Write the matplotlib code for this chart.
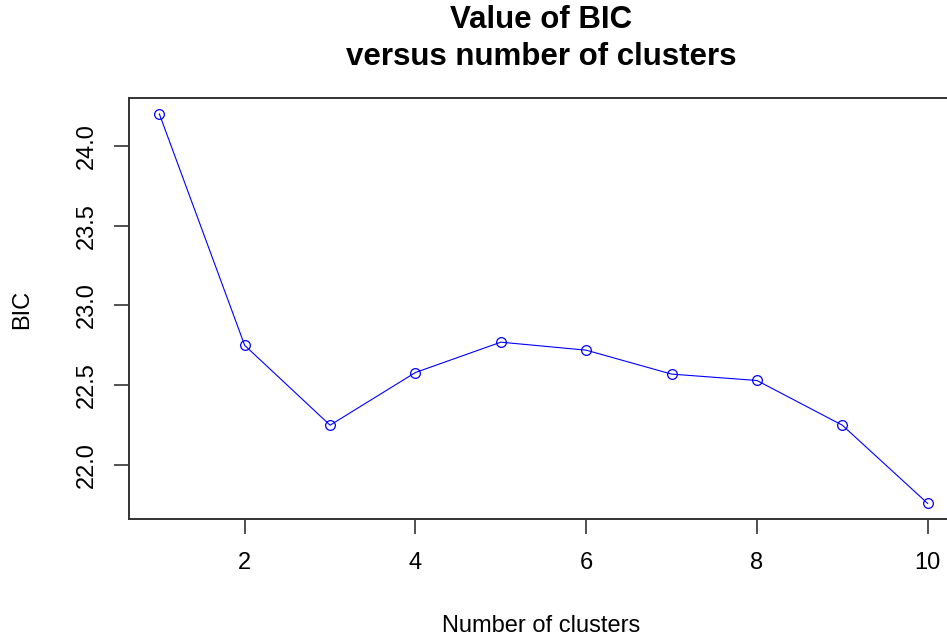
import matplotlib
matplotlib.use("Agg")
import matplotlib.pyplot as plt

# BIC per number of clusters
clusters = [1, 2, 3, 4, 5, 6, 7, 8, 9, 10]
bic = [24.20, 22.75, 22.25, 22.58, 22.77, 22.72, 22.57, 22.53, 22.25, 21.76]
x_ticks = [2, 4, 6, 8, 10]
y_ticks = [22.0, 22.5, 23.0, 23.5, 24.0]

plt.rcParams['font.family'] = ['Liberation Sans', 'DejaVu Sans']

W, H = 947, 641
fig = plt.figure(figsize=(W / 100, H / 100), dpi=100)
ax = fig.add_axes([128.6 / W, 1 - 519 / H, (958.4 - 128.6) / W, (519 - 98.3) / H])

ax.plot(clusters, bic, color='#0000ff', linewidth=0.8, marker='o', markersize=7,
        markerfacecolor='none', markeredgecolor='#0000ff', markeredgewidth=0.9)

# R style 4% padding
xr = max(clusters) - min(clusters)
yr = max(bic) - min(bic)
ax.set_xlim(min(clusters) - 0.04 * xr, max(clusters) + 0.04 * xr)
ax.set_ylim(min(bic) - 0.04 * yr, max(bic) + 0.04 * yr)

ax.set_xticks(x_ticks)
ax.set_yticks(y_ticks)
ax.set_yticklabels(['%.1f' % v for v in y_ticks], rotation=90, va='center')
ax.tick_params(axis='x', length=11, width=1.2, color='#333333', labelsize=17, pad=13)
ax.tick_params(axis='y', length=11, width=1.2, color='#333333', labelsize=17, pad=11)

for s in ax.spines.values():
    s.set_color('#333333')
    s.set_linewidth(1.4)

cx = 541.5 / W
fig.text(cx, 1 - 20 / H, 'Value of BIC', ha='center', va='center', fontsize=22.5, fontweight='bold')
fig.text(cx, 1 - 57 / H, 'versus number of clusters', ha='center', va='center', fontsize=22.5, fontweight='bold')
fig.text(541 / W, 1 - 626 / H, 'Number of clusters', ha='center', va='center', fontsize=17)
fig.text(22 / W, 1 - 309 / H, 'BIC', ha='center', va='center', rotation=90, fontsize=17)

fig.savefig('out.png', dpi=100)
